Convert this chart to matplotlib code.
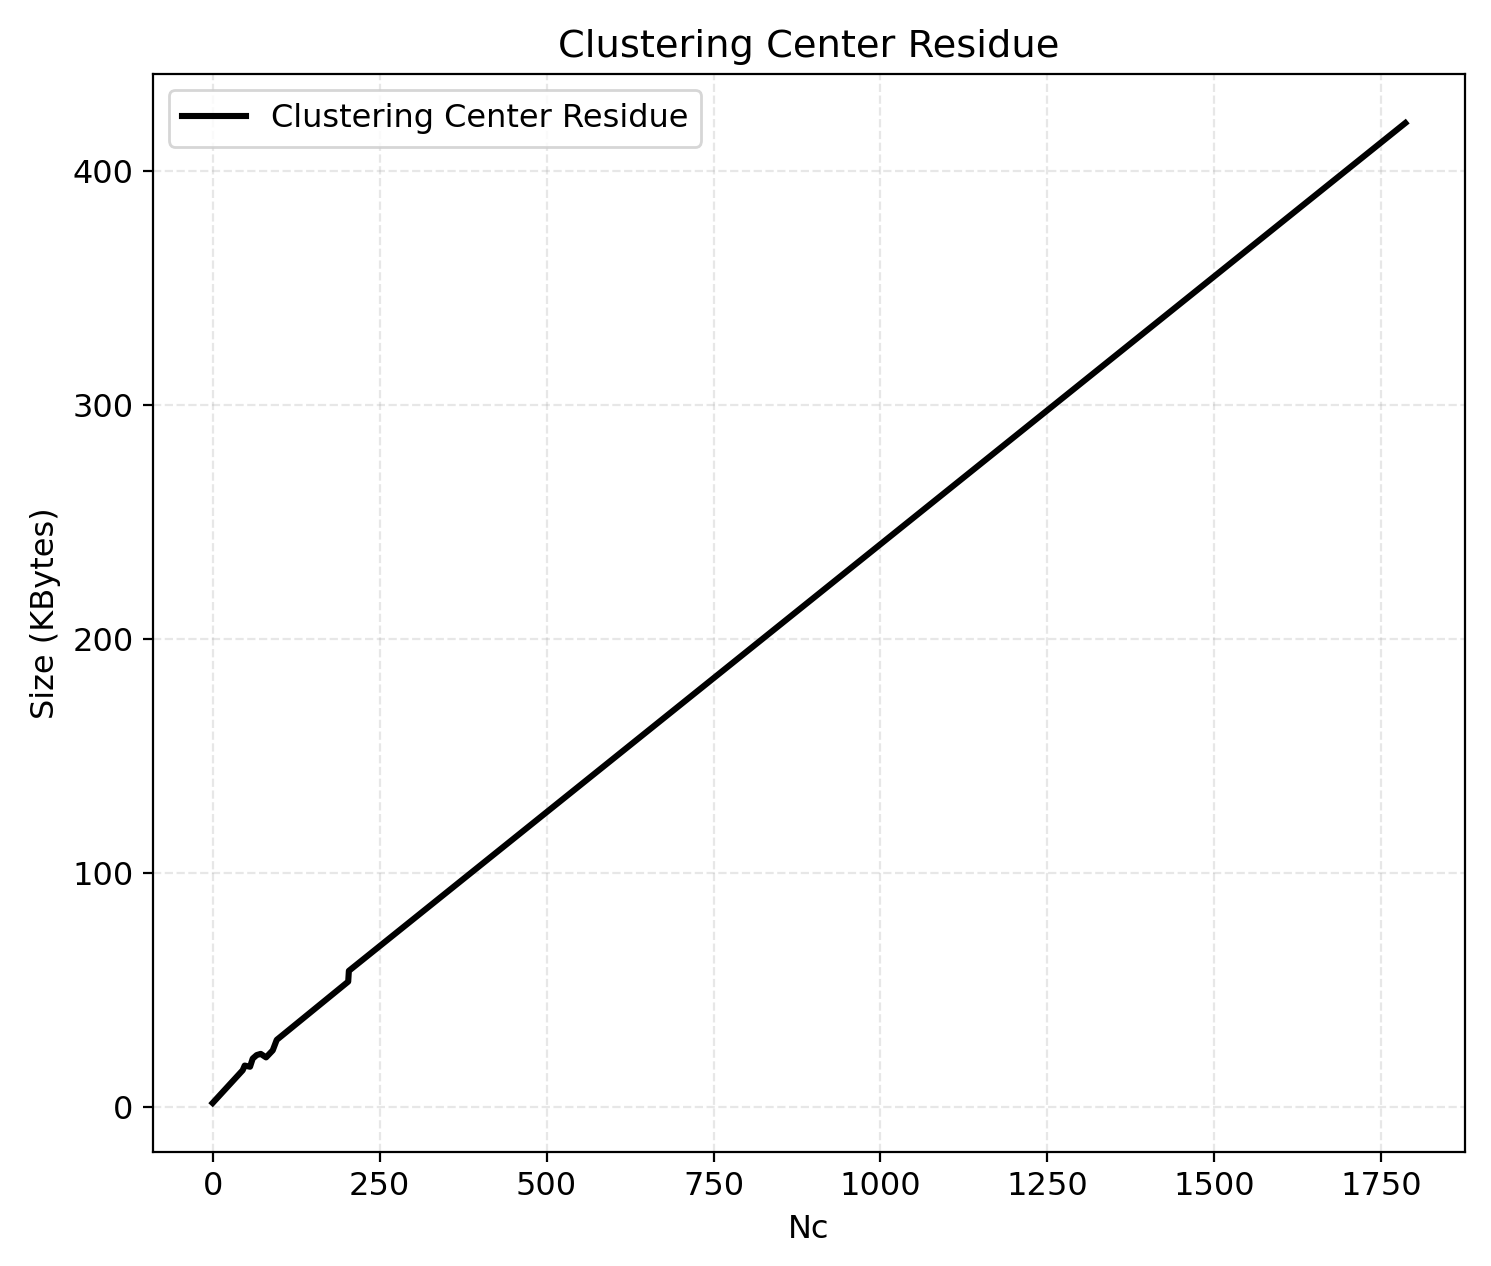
import matplotlib
matplotlib.use('Agg')

import matplotlib.pyplot as plt

# Values (a few breakpoints, incl. the small steps)
nc = [0, 45, 48, 56, 60, 66, 72, 80, 90, 96, 203, 204, 1786]
size_kb = [1.5, 15.5, 17.5, 17.0, 20.5, 22.0, 22.5, 21.0, 24.0, 28.5, 53.4, 58.0, 420.5]

plt.rcParams['font.size'] = 11.5

fig, ax = plt.subplots(figsize=(7.455, 6.33), dpi=200)
fig.subplots_adjust(left=153 / 1491, right=1465 / 1491, top=1 - 74 / 1266, bottom=1 - 1152 / 1266)

ax.plot(nc, size_kb, color='black', linewidth=2.2, label='Clustering Center Residue')
ax.set_xlabel('Nc')
ax.set_ylabel('Size (KBytes)')
ax.set_title('Clustering Center Residue')
ax.grid(True, linestyle='--', alpha=0.3)
ax.legend(loc='upper left')

plt.savefig('out.png', dpi=200)
plt.close()
